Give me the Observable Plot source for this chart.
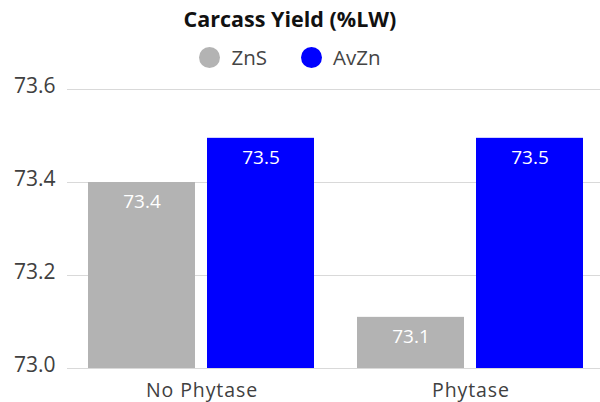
<!DOCTYPE html>
<html>
<head>
<meta charset="utf-8">
<script src="https://cdn.jsdelivr.net/npm/d3@7"></script>
<script src="https://cdn.jsdelivr.net/npm/@observablehq/plot@0.6"></script>
<style>
  body { margin: 0; background: #fff; font-family: "Open Sans", sans-serif; }
  #wrap { width: 600px; height: 402px; position: relative; overflow: hidden; }
  #title { position: absolute; left: 0; width: 580px; top: 4px; text-align: center; font-weight: bold; font-size: 21.5px; color: #111; white-space: nowrap; }
  #legend { position: absolute; left: 0; width: 580px; top: 43px; display: flex; justify-content: center; align-items: center; font-size: 20.5px; color: #444; }
  .item { display: flex; align-items: center; margin: 0 17px; }
  .dot { width: 21px; height: 21px; border-radius: 50%; margin-right: 11px; }
  #chart { position: absolute; left: 0; top: 60px; }
  g[aria-label*="fx-axis"] text { letter-spacing: 0.9px; }
</style>
</head>
<body>
<div id="wrap">
  <div id="title"></div>
  <div id="legend"></div>
  <div id="chart"></div>
</div>
<script>
const title = "Carcass Yield (%LW)";
const groups = ["No Phytase", "Phytase"];
const series = ["ZnS", "AvZn"];
const colors = ["#b3b3b3", "#0000ff"];
const znsValues = [73.40, 73.11];
const avznValues = [73.495, 73.495];
const yTicks = [73.0, 73.2, 73.4, 73.6];
const yDomain = [73.0, 73.6];

const data = [];
groups.forEach((g, i) => {
  data.push({group: g, series: "ZnS", value: znsValues[i]});
  data.push({group: g, series: "AvZn", value: avznValues[i]});
});

document.getElementById("title").textContent = title;
const legend = document.getElementById("legend");
series.forEach((s, i) => {
  const item = document.createElement("div");
  item.className = "item";
  const dot = document.createElement("span");
  dot.className = "dot";
  dot.style.background = colors[i];
  const lab = document.createElement("span");
  lab.textContent = s;
  item.appendChild(dot);
  item.appendChild(lab);
  legend.appendChild(item);
});

const chart = Plot.plot({
  width: 600,
  height: 342,
  marginLeft: 66,
  marginRight: 0,
  marginTop: 29,
  marginBottom: 34,
  style: {fontFamily: "'Open Sans', sans-serif", fontSize: "19px", color: "#444", background: "transparent"},
  fx: {domain: groups, range: [66, 605], paddingInner: 0, paddingOuter: 0, label: null},
  x: {domain: series, paddingInner: 0.1, paddingOuter: 0.173, axis: null},
  y: {domain: yDomain, label: null},
  color: {domain: series, range: colors},
  marks: [
    Plot.gridY(yTicks, {stroke: "#d9d9d9", strokeOpacity: 1, strokeWidth: 1}),
    Plot.axisY(yTicks, {tickSize: 0, tickPadding: 12, tickFormat: d3.format(".1f"), fontSize: 21, fill: "#404040", dy: -3, label: null}),
    Plot.axisFx({anchor: "bottom", tickSize: 0, tickPadding: 15, fontSize: 19.5, fill: "#404040", label: null}),
    Plot.barY(data, {fx: "group", x: "series", y1: () => yDomain[0], y2: "value", fill: "series"}),
    Plot.text(data, {fx: "group", x: "series", y: "value", text: d => d3.format(".1f")(d.value), fill: "white", dy: 19.5, fontSize: 19, lineAnchor: "middle"})
  ]
});
document.getElementById("chart").appendChild(chart);
</script>
</body>
</html>
